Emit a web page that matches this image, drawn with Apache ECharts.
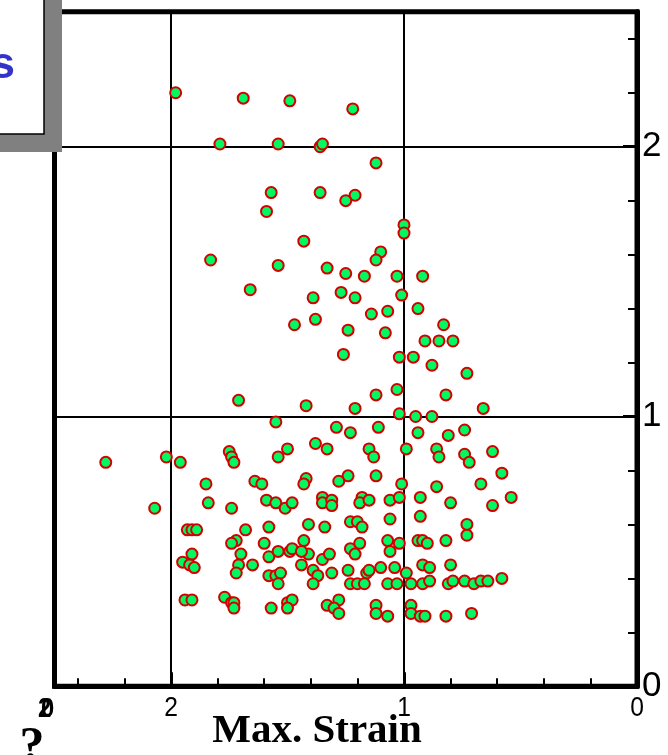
<!DOCTYPE html>
<html>
<head>
<meta charset="utf-8">
<script src="https://cdn.jsdelivr.net/npm/echarts@6/dist/echarts.min.js"></script>
<style>
  html, body { margin: 0; padding: 0; background: #fff; overflow: hidden; }
  #chart { width: 668px; height: 755px; }
</style>
</head>
<body>
<div id="chart"></div>
<script>
// Tick labels shown on the two axes
const xTickLabels = [0, 1, 2];
const yTickLabels = [0, 1, 2];

// Samples as [max strain, value], grouped by band of the vertical axis
const bandAbove1 = [
  [1.98, 2.20], [1.69, 2.18], [1.49, 2.17], [1.22, 2.14], [1.79, 2.01], [1.54, 2.01],
  [1.36, 2.00], [1.35, 2.01], [1.12, 1.94], [1.57, 1.83], [1.36, 1.83], [1.21, 1.82],
  [1.25, 1.80], [1.59, 1.76], [1.00, 1.71], [1.00, 1.68], [1.43, 1.65], [1.10, 1.61],
  [1.12, 1.58], [1.83, 1.58], [1.54, 1.56], [1.33, 1.55], [1.25, 1.53], [1.17, 1.52],
  [1.03, 1.52], [0.92, 1.52], [1.66, 1.47], [1.39, 1.44], [1.27, 1.46], [1.21, 1.44],
  [1.01, 1.45], [0.94, 1.40], [1.14, 1.38], [1.07, 1.39], [1.38, 1.36], [1.47, 1.34],
  [1.24, 1.32], [1.08, 1.31], [0.83, 1.34], [0.91, 1.28], [0.85, 1.28], [0.79, 1.28],
  [1.26, 1.23], [1.02, 1.22], [0.96, 1.22], [0.88, 1.19], [0.73, 1.16], [1.71, 1.06],
  [1.12, 1.08], [1.03, 1.10], [0.82, 1.08], [1.42, 1.04], [1.21, 1.03], [0.66, 1.03],
  [1.02, 1.01]
];

const bandMid = [
  [0.95, 1.00], [0.88, 1.00], [1.29, 0.96], [1.23, 0.94], [1.11, 0.96], [0.94, 0.94],
  [0.81, 0.93], [0.74, 0.95], [1.38, 0.90], [1.33, 0.88], [1.15, 0.88], [1.13, 0.85],
  [0.99, 0.88], [0.86, 0.88], [0.85, 0.85], [0.74, 0.86], [0.72, 0.83], [0.62, 0.87],
  [1.12, 0.78], [1.24, 0.78], [1.28, 0.76], [1.42, 0.77], [1.43, 0.75], [1.01, 0.75],
  [0.86, 0.74], [0.67, 0.75], [0.58, 0.79], [1.35, 0.70], [1.35, 0.68], [1.31, 0.69],
  [1.31, 0.67], [1.18, 0.70], [1.19, 0.68], [1.15, 0.69], [1.06, 0.69], [1.02, 0.70],
  [0.93, 0.70], [0.80, 0.68], [0.62, 0.67], [0.54, 0.70], [1.41, 0.60], [1.34, 0.59],
  [1.23, 0.61], [1.20, 0.61], [1.18, 0.59], [1.06, 0.62], [0.93, 0.63], [0.73, 0.60],
  [0.73, 0.56]
];

const bandLow = [
  [1.43, 0.54], [1.41, 0.49], [1.44, 0.45], [1.35, 0.47], [1.32, 0.49], [1.23, 0.51],
  [1.21, 0.49], [1.19, 0.53], [1.07, 0.54], [1.06, 0.50], [1.02, 0.53], [0.94, 0.54],
  [0.92, 0.54], [0.90, 0.53], [0.82, 0.54], [1.39, 0.43], [1.37, 0.41], [1.31, 0.42],
  [1.24, 0.43], [1.16, 0.42], [1.15, 0.43], [1.10, 0.44], [1.04, 0.44], [0.99, 0.42],
  [0.92, 0.45], [0.89, 0.44], [0.80, 0.45], [1.39, 0.38], [1.23, 0.38], [1.20, 0.38],
  [1.17, 0.38], [1.07, 0.38], [1.03, 0.38], [0.97, 0.38], [0.92, 0.38], [0.89, 0.39],
  [0.81, 0.38], [0.79, 0.39], [0.74, 0.39], [0.70, 0.38], [0.67, 0.39], [0.64, 0.39],
  [0.58, 0.40], [1.33, 0.30], [1.28, 0.32], [1.30, 0.29], [1.28, 0.27], [1.12, 0.30],
  [1.12, 0.27], [1.07, 0.26], [0.97, 0.30], [0.97, 0.27], [0.93, 0.26], [0.91, 0.26],
  [0.82, 0.26], [0.71, 0.27]
];

const bandWide = [
  [1.55, 0.98], [2.28, 0.83], [2.02, 0.85], [1.96, 0.83], [1.75, 0.87], [1.74, 0.85],
  [1.73, 0.83], [1.54, 0.85], [1.50, 0.88], [1.85, 0.75], [1.64, 0.76], [1.61, 0.75],
  [2.07, 0.66], [1.84, 0.68], [1.74, 0.66], [1.59, 0.69], [1.55, 0.68], [1.51, 0.66],
  [1.48, 0.68], [1.93, 0.58], [1.91, 0.58], [1.89, 0.58], [1.68, 0.58], [1.58, 0.59],
  [1.72, 0.54], [1.74, 0.53], [1.70, 0.49], [1.60, 0.53], [1.58, 0.48], [1.54, 0.50],
  [1.49, 0.50], [1.48, 0.51], [1.44, 0.50], [1.91, 0.49], [1.95, 0.46], [1.92, 0.45],
  [1.90, 0.44], [1.71, 0.45], [1.72, 0.42], [1.65, 0.45], [1.58, 0.41], [1.55, 0.41],
  [1.53, 0.42], [1.54, 0.38], [1.94, 0.32], [1.91, 0.32], [1.77, 0.33], [1.74, 0.31],
  [1.73, 0.31], [1.73, 0.29], [1.57, 0.29], [1.50, 0.31], [1.48, 0.32], [1.50, 0.29]
];

const allPoints = [].concat(bandAbove1, bandMid, bandLow, bandWide);

const sansFamily = '"Liberation Sans", Arial, sans-serif';
const serifFamily = '"Liberation Serif", "Times New Roman", serif';

const chart = echarts.init(document.getElementById('chart'), null, { renderer: 'canvas' });

chart.setOption({
  animation: false,
  backgroundColor: '#fff',
  grid: {
    show: true,
    left: 54.5, right: 31, top: 11.8, bottom: 68.7,
    outerBoundsMode: 'none',
    containLabel: false,
    borderColor: '#000', borderWidth: 5,
    backgroundColor: 'transparent'
  },
  xAxis: {
    type: 'value', min: 0, max: 2.5, interval: 1, inverse: true, position: 'bottom',
    axisLine: { show: true, onZero: false, lineStyle: { color: '#000', width: 5 } },
    axisTick: { show: true, inside: true, length: 14, lineStyle: { color: '#000', width: 3 } },
    minorTick: { show: true, splitNumber: 5, length: 8, lineStyle: { color: '#000', width: 2 } },
    splitLine: { show: true, lineStyle: { color: '#000', width: 2 } },
    // tick numbers are drawn below as condensed graphic text
    axisLabel: { show: false }
  },
  yAxis: {
    type: 'value', min: 0, max: 2.5, interval: 1, position: 'right',
    axisLine: { show: true, onZero: false, lineStyle: { color: '#000', width: 5 } },
    axisTick: { show: true, inside: true, length: 14, lineStyle: { color: '#000', width: 3 } },
    minorTick: { show: true, splitNumber: 5, length: 9, lineStyle: { color: '#000', width: 2 } },
    splitLine: { show: true, lineStyle: { color: '#000', width: 2 } },
    axisLabel: {
      show: true, margin: 5, color: '#000', fontSize: 35, fontFamily: sansFamily,
      formatter: v => (yTickLabels.includes(v) ? String(v) : '')
    }
  },
  series: [{
    type: 'scatter',
    data: allPoints,
    symbol: 'circle',
    symbolSize: 11,
    itemStyle: { color: '#00f862', borderColor: '#d40000', borderWidth: 2, opacity: 1 },
    z: 5
  }]
});

function label(text, x, y, opts) {
  return Object.assign({
    type: 'text', silent: true, z: 50, x: x, y: y, scaleX: 1, scaleY: 1,
    style: Object.assign({
      text: text, x: 0, y: 0, align: 'center', verticalAlign: 'middle',
      fontSize: 28, fontFamily: sansFamily, fontWeight: 'normal', fill: '#000'
    }, opts.style || {})
  }, opts.el || {});
}

// Condensed x tick numbers, placed through the axis scale
const axisY = chart.convertToPixel({ yAxisIndex: 0 }, 0);
const graphics = xTickLabels.map(v =>
  label(String(v), chart.convertToPixel({ xAxisIndex: 0 }, v), axisY + 22, { el: { scaleX: 0.88 } })
);

const xMaxPx = chart.convertToPixel({ xAxisIndex: 0 }, 2.5);
graphics.push(
  label('2', xMaxPx - 10, axisY + 23, { el: { scaleX: 0.85 }, style: { fontWeight: 'bold' } }),
  label('0', xMaxPx - 7, axisY + 23, { el: { scaleX: 0.85 }, style: { fontWeight: 'bold' } }),
  label('Max. Strain', 317, 731, { style: { fontSize: 41, fontWeight: 'bold', fontFamily: serifFamily } }),
  label('?', 32, 748, { style: { fontSize: 50, fontWeight: 'bold', fontFamily: serifFamily } }),
  // boxed caption with drop shadow in the upper-left corner
  { type: 'rect', silent: true, z: 100, shape: { x: -30, y: -30, width: 92, height: 182 }, style: { fill: '#808080' } },
  { type: 'rect', silent: true, z: 101, shape: { x: -30, y: -30, width: 74, height: 164 }, style: { fill: '#fff', stroke: '#000', lineWidth: 1.5 } },
  label('s', 15, 66, { el: { z: 102 }, style: { align: 'right', fontSize: 44, fontWeight: 'bold', fill: '#3333cc' } })
);

chart.setOption({ graphic: graphics });
</script>
</body>
</html>
